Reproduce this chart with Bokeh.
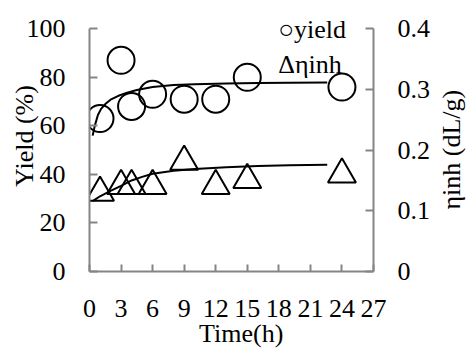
import math
from bokeh.plotting import figure
from bokeh.layouts import row
from bokeh.models import Range1d, LinearAxis, FixedTicker, CustomJSTickFormatter, Label
from bokeh.embed import file_html
from bokeh.resources import INLINE

# ---- data ----
time_h = [1, 3, 4, 6, 9, 12, 15, 24]
yield_pct = [63, 87, 68, 73, 71, 71, 80, 76]
eta_inh = [0.130, 0.141, 0.141, 0.141, 0.181, 0.141, 0.151, 0.160]

yield_fit_x = [0.3, 0.5, 0.8, 1.1, 1.5, 2, 2.7, 3.5, 4.5, 6, 8, 10, 13, 16, 19, 22.6]
yield_fit_y = [56, 60, 64.5, 67, 69, 70.8, 72.3, 73.6, 74.8, 76.0, 76.8, 77.2, 77.5, 77.7, 77.8, 77.9]

eta_fit_x = [0.3, 1, 2, 3, 4, 5, 6, 8, 10, 13, 16, 19, 22.6]
eta_fit_y = [0.116, 0.124, 0.133, 0.141, 0.150, 0.156, 0.161, 0.166, 0.169, 0.172, 0.174, 0.175, 0.176]

x_ticks = [0, 3, 6, 9, 12, 15, 18, 21, 24, 27]
y_ticks = [0, 20, 40, 60, 80, 100]
eta_ticks = [0, 0.1, 0.2, 0.3, 0.4]

FONT = "'Liberation Serif'"
FS = "26px"
AXC = "#858585"

H = 356
BOTTOM = 85
Y_TOP = 111.66          # frame reaches a bit above 100 so the legend text fits
ETA_TOP = Y_TOP * 0.004

p = figure(width=433, height=H, output_backend="svg", toolbar_location=None,
           x_range=Range1d(0, 27), y_range=Range1d(0, Y_TOP),
           min_border_left=89, min_border_right=58, min_border_top=0, min_border_bottom=BOTTOM)
p.extra_y_ranges = {"eta": Range1d(0, ETA_TOP)}
p.outline_line_color = None
p.xgrid.visible = False
p.ygrid.visible = False
p.background_fill_color = "white"
p.border_fill_color = "white"

def style_axis(ax, standoff, tick_in):
    ax.axis_line_color = AXC
    ax.axis_line_width = 2
    ax.major_tick_line_color = AXC
    ax.major_tick_line_width = 2
    ax.major_tick_in = tick_in
    ax.major_tick_out = 0
    ax.minor_tick_line_color = None
    ax.major_label_text_font = FONT
    ax.major_label_text_font_size = FS
    ax.major_label_text_font_style = "normal"
    ax.major_label_text_color = "black"
    ax.major_label_standoff = standoff
    ax.axis_label_text_font = FONT
    ax.axis_label_text_font_size = FS
    ax.axis_label_text_font_style = "normal"
    ax.axis_label_text_color = "black"

xa = p.xaxis[0]
xa.ticker = FixedTicker(ticks=x_ticks)
style_axis(xa, 28, 7)
xa.axis_label = "\u00a0\u00a0\u00a0Time(h)"
xa.axis_label_standoff = -1

ya = p.yaxis[0]
ya.ticker = FixedTicker(ticks=y_ticks)
ya.bounds = (0, 100)
style_axis(ya, 24, 8)
ya.axis_label = "Yield (%)"
ya.axis_label_standoff = -15

ra = LinearAxis(y_range_name="eta")
ra.ticker = FixedTicker(ticks=eta_ticks)
ra.bounds = (0, 0.4)
ra.formatter = CustomJSTickFormatter(code="return tick == 0 ? '0' : tick.toFixed(1);")
style_axis(ra, 24, 8)
p.add_layout(ra, "right")

# fit curves
p.line(yield_fit_x, yield_fit_y, line_color="black", line_width=2)
p.line(eta_fit_x, eta_fit_y, line_color="black", line_width=2, y_range_name="eta")

# points
p.scatter(time_h, yield_pct, marker="circle", size=27, fill_color=None,
          line_color="black", line_width=2)
p.scatter(time_h, eta_inh, marker="triangle", size=28, fill_color=None,
          line_color="black", line_width=2, y_range_name="eta")

# legend texts
p.add_layout(Label(x=17.94, y=99.7, text="○yield", text_font=FONT, text_font_size=FS,
                   text_font_style="normal",
                   text_align="left", text_baseline="alphabetic", text_color="black"))
p.add_layout(Label(x=17.94, y=85.3, text="Δηinh", text_font=FONT, text_font_size=FS,
                   text_font_style="normal",
                   text_align="left", text_baseline="alphabetic", text_color="black"))

# right-hand axis title (reads bottom to top), in a narrow companion panel
q = figure(width=36, height=H, output_backend="svg", toolbar_location=None,
           x_range=Range1d(0, 1), y_range=p.y_range,
           x_axis_location=None, y_axis_location=None,
           min_border_left=0, min_border_right=0, min_border_top=0, min_border_bottom=BOTTOM)
q.outline_line_color = None
q.xgrid.visible = False
q.ygrid.visible = False
q.add_layout(Label(x=0.5, y=50.2, text="ηinh (dL/g)", angle=math.pi / 2,
                   text_font=FONT, text_font_size=FS, text_font_style="normal",
                   text_align="center", text_baseline="middle", text_color="black"))

layout = row(p, q, spacing=0)
open("out.html", "w").write(file_html(layout, INLINE))
